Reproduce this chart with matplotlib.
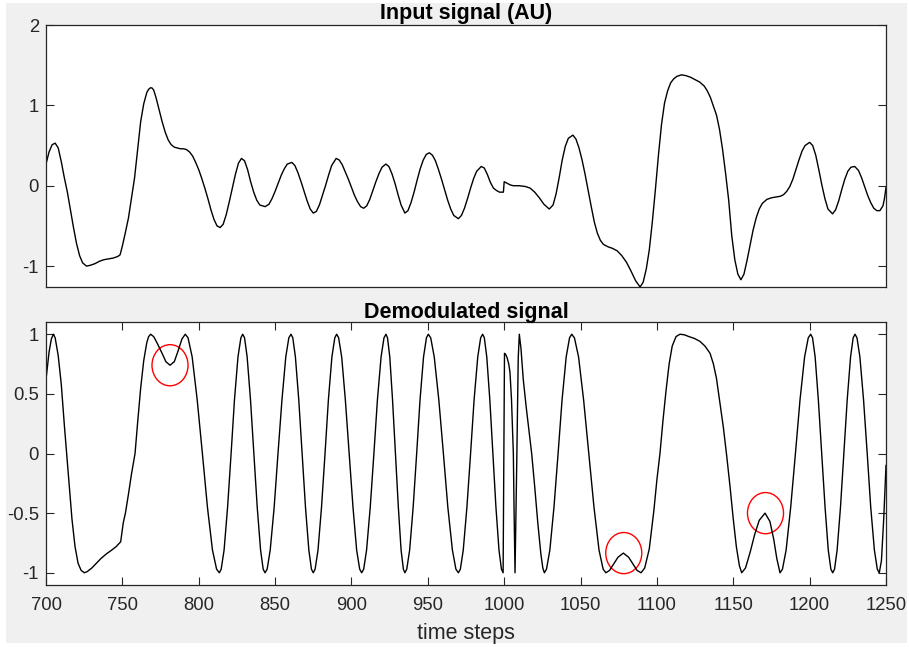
import numpy as np
import matplotlib
matplotlib.use("Agg")
import matplotlib.pyplot as plt
from matplotlib.patches import Ellipse, Rectangle

plt.rcParams['font.family'] = ['Liberation Sans', 'DejaVu Sans']
plt.rcParams['axes.unicode_minus'] = False

# input signal
t_in = [700, 702, 704, 706, 708, 710, 712, 714, 716, 718, 720, 722, 724, 726.5, 729, 732, 735, 738, 741, 744,
        747, 748.5, 750, 752, 754, 756, 758, 760, 762, 764, 766, 767.2, 768.5, 769.5, 770.5, 772, 774, 776, 778, 780, 782, 784,
        786, 788, 790, 792, 794, 796, 798, 800, 802, 804, 806, 808, 810, 812, 814, 816, 818, 820, 822, 824,
        826, 828, 830, 832, 834, 836, 838, 840, 843.5, 846, 848, 850, 852, 854, 856, 858, 861, 863, 865, 867,
        869, 871, 873, 875, 877, 879, 881, 883, 885, 887, 890, 892, 894, 896, 898, 900, 902, 904, 906, 908,
        910, 912, 914, 916, 918, 920, 922.5, 924.5, 926.5, 928.5, 930.5, 932.5, 935, 937, 939, 941, 943, 945, 947, 949,
        951, 953, 955, 957, 959, 961, 963, 965, 967, 970, 972, 974, 976, 978, 980, 982, 985, 987, 989, 991,
        993, 995, 997, 999.5, 1000, 1002, 1004, 1006, 1010, 1014, 1017, 1020, 1023, 1026, 1029.5, 1032, 1034, 1036, 1038, 1040,
        1042, 1045, 1047, 1049, 1051, 1053, 1055, 1057, 1059, 1061, 1063, 1065, 1068, 1071, 1074, 1077, 1080, 1083, 1086, 1089,
        1091, 1093, 1095, 1097, 1099, 1101, 1103, 1105, 1107, 1109, 1111, 1113, 1116, 1119, 1122, 1125, 1128, 1131, 1133, 1135,
        1137, 1139, 1141, 1143, 1145, 1147, 1149, 1151, 1153, 1155, 1157, 1159, 1161, 1163, 1165, 1167, 1169, 1172, 1175, 1178,
        1181, 1183, 1185, 1187, 1189, 1191, 1193, 1195, 1197, 1200, 1202, 1204, 1206, 1208, 1210, 1212, 1215, 1217, 1219, 1221,
        1223, 1225, 1227, 1229.5, 1232, 1234, 1236, 1238, 1240, 1242, 1244, 1246, 1248, 1249, 1250]
y_in = [0.27, 0.42, 0.51, 0.53, 0.47, 0.30, 0.10, -0.08, -0.30, -0.52, -0.72, -0.87, -0.96, -1.00, -0.99, -0.97, -0.94, -0.92, -0.91, -0.90,
        -0.88, -0.86, -0.75, -0.58, -0.40, -0.15, 0.10, 0.45, 0.80, 1.02, 1.16, 1.20, 1.22, 1.215, 1.19, 1.10, 0.95, 0.80, 0.67, 0.57, 0.51, 0.48,
        0.47, 0.46, 0.46, 0.45, 0.42, 0.37, 0.29, 0.20, 0.09, -0.03, -0.16, -0.30, -0.42, -0.50, -0.52, -0.48, -0.36, -0.20, -0.03, 0.14,
        0.28, 0.34, 0.31, 0.20, 0.05, -0.08, -0.18, -0.24, -0.26, -0.23, -0.16, -0.07, 0.03, 0.13, 0.21, 0.27, 0.29, 0.25, 0.16, 0.05,
        -0.07, -0.19, -0.29, -0.34, -0.32, -0.24, -0.12, 0.00, 0.13, 0.25, 0.34, 0.32, 0.26, 0.17, 0.08, -0.02, -0.12, -0.20, -0.26, -0.28,
        -0.25, -0.17, -0.06, 0.05, 0.15, 0.23, 0.27, 0.24, 0.15, 0.03, -0.11, -0.24, -0.34, -0.31, -0.21, -0.08, 0.07, 0.21, 0.32, 0.39,
        0.41, 0.38, 0.31, 0.20, 0.08, -0.05, -0.18, -0.29, -0.37, -0.41, -0.37, -0.28, -0.16, -0.03, 0.09, 0.18, 0.24, 0.22, 0.14, 0.04,
        -0.03, -0.06, -0.08, -0.08, 0.05, 0.03, 0.01, 0.00, 0.00, -0.01, -0.03, -0.08, -0.15, -0.23, -0.29, -0.24, -0.10, 0.10, 0.32, 0.49,
        0.59, 0.63, 0.58, 0.47, 0.32, 0.14, -0.06, -0.26, -0.45, -0.59, -0.68, -0.73, -0.76, -0.78, -0.81, -0.87, -0.95, -1.06, -1.18, -1.26,
        -1.20, -1.04, -0.80, -0.45, -0.05, 0.38, 0.76, 1.03, 1.18, 1.28, 1.33, 1.36, 1.38, 1.37, 1.35, 1.32, 1.29, 1.24, 1.18, 1.10,
        0.99, 0.88, 0.70, 0.45, 0.15, -0.18, -0.62, -0.92, -1.10, -1.17, -1.10, -0.93, -0.74, -0.55, -0.40, -0.29, -0.22, -0.17, -0.15, -0.14,
        -0.13, -0.11, -0.07, -0.01, 0.08, 0.20, 0.32, 0.43, 0.50, 0.54, 0.50, 0.38, 0.20, 0.01, -0.16, -0.29, -0.35, -0.30, -0.19, -0.05,
        0.08, 0.18, 0.23, 0.24, 0.19, 0.10, -0.01, -0.12, -0.21, -0.28, -0.31, -0.31, -0.25, -0.16, -0.02]

# demodulated signal
t_dem = [700, 702, 703.5, 704.8, 706, 708, 710, 712, 713.5, 715, 717, 719, 721, 723, 725.1,
         727, 730, 733, 736, 739.7, 743, 746, 748.9, 750.6, 752, 754, 756, 758.3, 760, 762, 764, 766, 767.2, 768.5,
         770.5, 773, 776, 778.5, 781.2, 784, 786.5, 789, 791.2,
         793.0, 795.7, 799.0, 802.4, 805.7, 809.0, 811.7, 813.5,
         814.7, 816.6, 818.9, 821.2, 823.4, 825.7, 827.6, 828.8,
         830.0, 831.7, 833.9, 836.1, 838.3, 840.5, 842.2, 843.4,
         844.8, 846.8, 849.4, 851.9, 854.5, 857.0, 859.0, 860.4,
         861.6, 863.3, 865.5, 867.7, 869.9, 872.1, 873.8, 875,
         876.2, 878.1, 880.4, 882.7, 884.9, 887.2, 889.1, 890.3,
         891.6, 893.6, 896.0, 898.5, 901.0, 903.4, 905.4, 906.7,
         908.0, 909.9, 912.3, 914.7, 917.0, 919.4, 921.3, 922.6,
         923.6, 925.1, 926.9, 928.8, 930.7, 932.5, 934.0, 935,
         936.2, 938.1, 940.4, 942.7, 944.9, 947.2, 949.1, 950.3,
         951.9, 954.2, 957.2, 960.2, 963.1, 966.1, 968.4, 970,
         971.3, 973.2, 975.6, 978.0, 980.3, 982.7, 984.6, 985.9,
         987.0, 988.6, 990.6, 992.6, 994.6, 996.6, 998.2, 999.3,
         1000.2, 1001, 1002, 1003, 1003.8, 1004.8, 1005.5, 1006, 1006.5, 1007.1,
         1008.2, 1009.2, 1009.9,
         1011, 1012.5, 1014.5, 1016.5, 1018, 1020, 1022, 1024, 1025.3, 1026.3,
         1027.7, 1029.9, 1032.6, 1035.3, 1037.9, 1040.6, 1042.8, 1044.2,
         1046.0, 1048.7, 1052.0, 1055.4, 1058.8, 1062.1, 1064.8, 1066.6,
         1069, 1071.5, 1074.5, 1078, 1081.5, 1084.5, 1087, 1089.6,
         1092, 1095, 1098, 1100, 1102, 1104, 1106, 1108, 1110, 1112.5, 1115.1,
         1118, 1121, 1124.5, 1128.2, 1131.5, 1134.8, 1137, 1139, 1141.3, 1143.5, 1145.7, 1147.9, 1150, 1152, 1154, 1155.5,
         1158, 1161, 1164, 1167, 1170.8, 1174, 1176.5, 1178.5, 1180.6,
         1182.2, 1184.6, 1187.6, 1190.7, 1193.7, 1196.7, 1199.1, 1200.7,
         1201.9, 1203.6, 1205.7, 1207.9, 1210.1, 1212.2, 1213.9, 1215.1,
         1216.3, 1218.0, 1220.2, 1222.4, 1224.6, 1226.8, 1228.5, 1229.7,
         1231.0, 1232.9, 1235.3, 1237.7, 1240.0, 1242.4, 1244.3, 1245.6,
         1247, 1248.5, 1250]
y_dem = [0.62, 0.85, 0.96, 1.0, 0.97, 0.82, 0.58, 0.24, 0.0, -0.25, -0.55, -0.78, -0.92, -0.98, -1.0,
         -0.99, -0.96, -0.92, -0.88, -0.84, -0.81, -0.78, -0.74, -0.58, -0.50, -0.34, -0.17, 0.0, 0.26, 0.55, 0.78, 0.93, 0.98, 1.0,
         0.98, 0.92, 0.84, 0.77, 0.74, 0.77, 0.86, 0.96, 1.0,
         0.97, 0.81, 0.45, 0.0, -0.45, -0.81, -0.97, -1.0,
         -0.97, -0.81, -0.45, 0.0, 0.45, 0.81, 0.97, 1.0,
         0.97, 0.81, 0.45, 0.0, -0.45, -0.81, -0.97, -1.0,
         -0.97, -0.81, -0.45, 0.0, 0.45, 0.81, 0.97, 1.0,
         0.97, 0.81, 0.45, 0.0, -0.45, -0.81, -0.97, -1.0,
         -0.97, -0.81, -0.45, 0.0, 0.45, 0.81, 0.97, 1.0,
         0.97, 0.81, 0.45, 0.0, -0.45, -0.81, -0.97, -1.0,
         -0.97, -0.81, -0.45, 0.0, 0.45, 0.81, 0.97, 1.0,
         0.97, 0.81, 0.45, 0.0, -0.45, -0.81, -0.97, -1.0,
         -0.97, -0.81, -0.45, 0.0, 0.45, 0.81, 0.97, 1.0,
         0.97, 0.81, 0.45, 0.0, -0.45, -0.81, -0.97, -1.0,
         -0.97, -0.81, -0.45, 0.0, 0.45, 0.81, 0.97, 1.0,
         0.97, 0.81, 0.45, 0.0, -0.45, -0.81, -0.97, -1.0,
         0.84, 0.83, 0.80, 0.75, 0.68, 0.45, 0.20, 0.0, -0.5, -1.0,
         -0.1, 0.8, 1.0,
         0.88, 0.62, 0.38, 0.16, 0.0, -0.28, -0.58, -0.84, -0.96, -1.0,
         -0.97, -0.81, -0.45, 0.0, 0.45, 0.81, 0.97, 1.0,
         0.97, 0.81, 0.45, 0.0, -0.45, -0.81, -0.97, -1.0,
         -0.98, -0.93, -0.87, -0.835, -0.87, -0.93, -0.98, -1.0,
         -0.96, -0.80, -0.48, -0.22, 0.0, 0.28, 0.53, 0.75, 0.90, 0.98, 1.0,
         0.995, 0.98, 0.965, 0.94, 0.90, 0.84, 0.75, 0.63, 0.42, 0.22, -0.02, -0.28, -0.55, -0.78, -0.94, -1.0,
         -0.96, -0.83, -0.68, -0.56, -0.5, -0.57, -0.72, -0.88, -1.0,
         -0.97, -0.81, -0.45, 0.0, 0.45, 0.81, 0.97, 1.0,
         0.97, 0.81, 0.45, 0.0, -0.45, -0.81, -0.97, -1.0,
         -0.97, -0.81, -0.45, 0.0, 0.45, 0.81, 0.97, 1.0,
         0.97, 0.81, 0.45, 0.0, -0.45, -0.81, -0.97, -1.0,
         -0.9, -0.55, -0.1]

# red circles (marked bumps)
circ_x = [781.2, 1078.3, 1171.1]
circ_y = [0.74, -0.835, -0.50]

fig = plt.figure(figsize=(9.09, 6.47), dpi=100, facecolor='white')
bg = Rectangle((6 / 909, 1 - 643 / 647), 901 / 909, 640 / 647,
               transform=fig.transFigure, facecolor='#f0f0f0', edgecolor='none', zorder=-10)
fig.patches.append(bg)

ax1 = fig.add_axes([46 / 909, 1 - 287 / 647, 840 / 909, 262 / 647])
ax2 = fig.add_axes([46 / 909, 1 - 584.7 / 647, 840 / 909, 262.4 / 647])

axcol = '#262626'
for ax in (ax1, ax2):
    ax.set_zorder(1)
    ax.set_facecolor('white')
    for s in ax.spines.values():
        s.set_color(axcol)
        s.set_linewidth(0.9)
    ax.tick_params(direction='in', length=5.5, width=0.8, colors=axcol, labelsize=13.3,
                   top=True, right=True, pad=5)
    ax.set_xlim(700, 1250)

# top panel
ax1.plot(t_in, y_in, color='black', lw=1.0)
ax1.set_ylim(-1.26, 2)
ax1.set_yticks([-1, 0, 1, 2])
ax1.set_xticks([])
ax1.set_title('Input signal (AU)', fontsize=15.5, fontweight='bold', pad=4)

# bottom panel
ax2.plot(t_dem, y_dem, color='black', lw=1.0)
for cx, cy in zip(circ_x, circ_y):
    ax2.add_patch(Ellipse((cx, cy), 23.6, 0.345, facecolor='none', edgecolor='red', lw=1.0))
ax2.set_ylim(-1.1, 1.1)
ax2.set_yticks([-1, -0.5, 0, 0.5, 1])
ax2.set_yticklabels(['-1', '-0.5', '0', '0.5', '1'])
ax2.set_xticks(np.arange(700, 1251, 50))
ax2.tick_params(axis='x', pad=9)
ax2.set_title('Demodulated signal', fontsize=15.5, fontweight='bold', pad=3)
ax2.set_xlabel('time steps', fontsize=15.5, color=axcol, labelpad=6)

fig.savefig('out.png', dpi=100, facecolor=fig.get_facecolor())
